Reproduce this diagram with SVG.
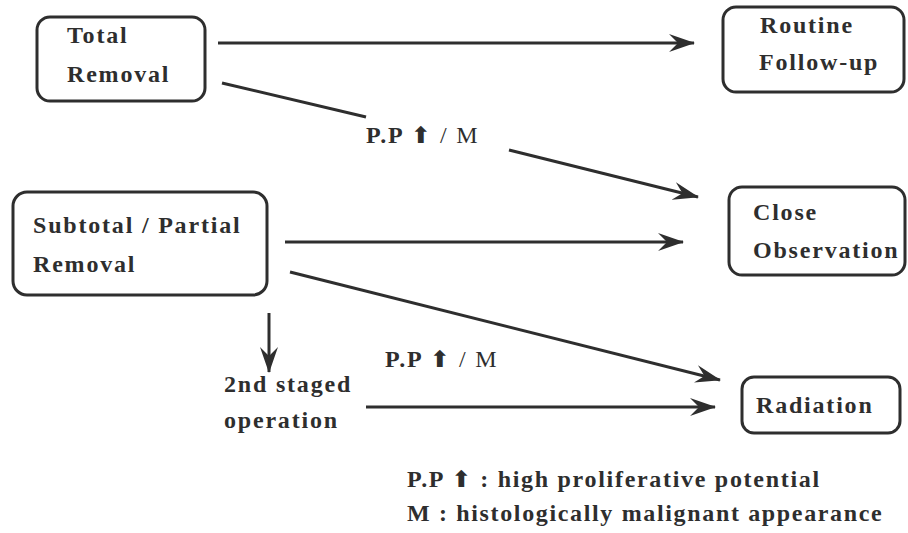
<svg xmlns="http://www.w3.org/2000/svg" width="908" height="533" viewBox="0 0 908 533">
<style>
.t{font-family:'Liberation Serif','DejaVu Serif',serif;font-size:24px;font-weight:700;fill:#2e2e2e;letter-spacing:1.8px}
.reg{font-weight:400}
.sym{font-family:'DejaVu Sans',sans-serif;font-size:23px}
.box{fill:#fff;stroke:#2e2e2e;stroke-width:3}
.ln{stroke:#2e2e2e;stroke-width:3;fill:none}
</style>
<defs>
<marker id="ah" viewBox="0 0 26 18" refX="25" refY="9" markerWidth="26" markerHeight="18" markerUnits="userSpaceOnUse" orient="auto">
<path d="M0,0 L26,9 L0,18 L9,9 z" fill="#2e2e2e"/>
</marker>
</defs>
<rect width="908" height="533" fill="#fff"/>
<g id="connectors">
<line class="ln" x1="218" y1="43" x2="694" y2="43" marker-end="url(#ah)"/>
<line class="ln" x1="222" y1="83" x2="366" y2="117"/>
<line class="ln" x1="509" y1="150" x2="698" y2="197" marker-end="url(#ah)"/>
<line class="ln" x1="285" y1="242" x2="683" y2="242" marker-end="url(#ah)"/>
<line class="ln" x1="290" y1="272" x2="720" y2="380" marker-end="url(#ah)"/>
<line class="ln" x1="269" y1="313" x2="269" y2="372" marker-end="url(#ah)"/>
<line class="ln" x1="366" y1="407" x2="715" y2="407" marker-end="url(#ah)"/>
<text class="t" x="366" y="143">P.P <tspan class="sym">⬆</tspan> <tspan class="reg">/ M</tspan></text>
<text class="t" x="385" y="367">P.P <tspan class="sym">⬆</tspan> <tspan class="reg">/ M</tspan></text>
</g>
<g id="total">
<rect class="box" x="37" y="17" width="168" height="84" rx="13"/>
<text class="t" x="67" y="43">Total</text>
<text class="t" x="67" y="82">Removal</text>
</g>
<g id="routine">
<rect class="box" x="723" y="7" width="181" height="85" rx="13"/>
<text class="t" x="760" y="33">Routine</text>
<text class="t" x="759" y="70">Follow-up</text>
</g>
<g id="close">
<rect class="box" x="729" y="187" width="176" height="88" rx="13"/>
<text class="t" x="753" y="220">Close</text>
<text class="t" x="753" y="258">Observation</text>
</g>
<g id="subtotal">
<rect class="box" x="13" y="192" width="254" height="103" rx="14"/>
<text class="t" x="33" y="233">Subtotal / Partial</text>
<text class="t" x="33" y="272">Removal</text>
</g>
<g id="second">
<text class="t" x="224" y="392">2nd staged</text>
<text class="t" x="224" y="428">operation</text>
</g>
<g id="radiation">
<rect class="box" x="742" y="377" width="158" height="56" rx="12"/>
<text class="t" x="756" y="413">Radiation</text>
</g>
<g id="legend">
<text class="t" x="407" y="487" style="letter-spacing:1.7px">P.P <tspan class="sym">⬆</tspan> : high proliferative potential</text>
<text class="t" x="407" y="521" style="letter-spacing:1.65px">M : histologically malignant appearance</text>
</g>
</svg>
